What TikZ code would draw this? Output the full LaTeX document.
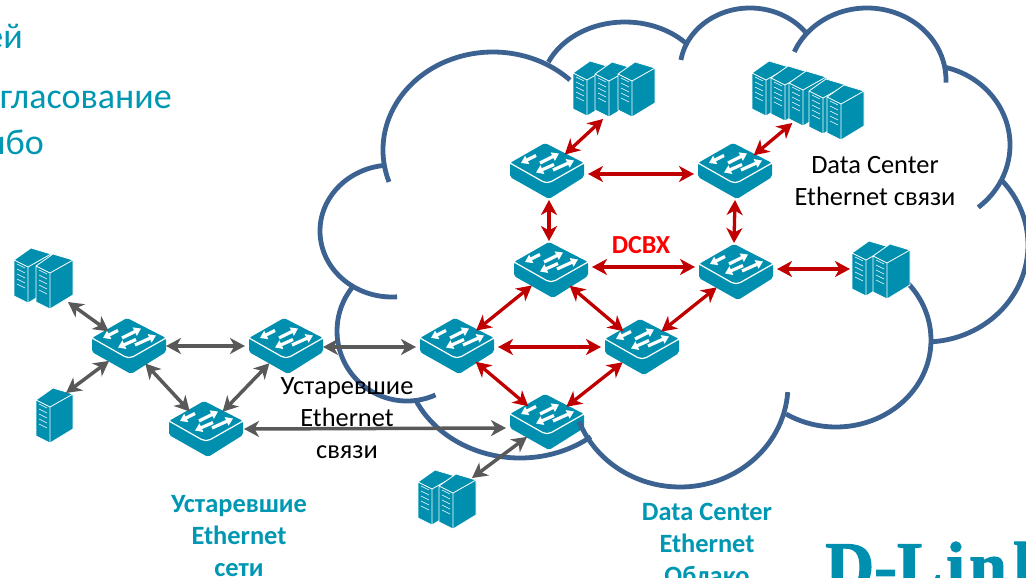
\documentclass[tikz,border=0pt]{standalone}
\usepackage{fontspec}
\setmainfont{Carlito}
\newfontfamily\logofont[FakeBold=1.6]{Liberation Serif Bold}
\usetikzlibrary{arrows.meta,shapes.geometric}
\definecolor{iconteal}{HTML}{008FAE}
\definecolor{headteal}{HTML}{0097B2}
\definecolor{cloudblue}{HTML}{3C6291}
\definecolor{linkred}{HTML}{C00000}
\definecolor{linkgrey}{HTML}{595959}
\newcommand{\cloudarc}[6]{\draw[cloudline] (#1,#2) ++(#5:#3 and #4) arc[start angle=#5, end angle=#6, x radius=#3, y radius=#4];}
\tikzset{
  cloudline/.style={draw=cloudblue, line width=4.8pt},
  redlink/.style={draw=linkred, line width=3.3pt, {Stealth[length=15pt,width=16pt,inset=4.5pt]}-{Stealth[length=15pt,width=16pt,inset=4.5pt]}},
  greylink/.style={draw=linkgrey, line width=3.5pt, {Stealth[length=15pt,width=16pt,inset=4.5pt]}-{Stealth[length=15pt,width=16pt,inset=4.5pt]}},
  swport/.style={shape=diamond, minimum width=82pt, minimum height=58pt, inner sep=0pt, outer sep=0pt},
  rackport/.style={shape=rectangle, inner sep=0pt, outer sep=0pt},
  blacktext/.style={align=center, font=\fontsize{26.4}{32}\selectfont},
  tealtext/.style={align=center, text=headteal, font=\fontsize{26.4}{32}\selectfont\bfseries},
  headtext/.style={anchor=base east, inner sep=0pt, text=headteal, font=\fontsize{36}{44}\selectfont},
  switchicon/.pic={
    \fill[iconteal, rounded corners=2pt] (-37,-8) -- (-2,-28) -- (37,-8) -- (37,6) -- (2,28) -- (-37,6) -- cycle;
    \draw[white, line width=1.2pt, rounded corners=5pt] (-37,-8) -- (0,13) -- (37,-8);
    \draw[white, line width=3.2pt, -{Triangle[length=7pt,width=9pt]}] (-11,-15.5) -- (-26,-8);
    \draw[white, line width=3.2pt, -{Triangle[length=7pt,width=9pt]}] (-7,-8) -- (12,-17.5);
    \draw[white, line width=3.2pt, -{Triangle[length=7pt,width=9pt]}] (7,-6.5) -- (-11,1.5);
    \draw[white, line width=3.2pt, -{Triangle[length=7pt,width=9pt]}] (6,-1) -- (27,-10.5);
  },
  servericon/.pic={
    \filldraw[fill=iconteal, draw=white, line width=0.8pt, line join=round] (0,0) -- (-14,-7) -- (3,-19) -- (23,-13) -- (23,22) -- (0,36) -- (-14,29) -- (-14,-7) -- (0,0) -- (23,-13) (0,0) -- (0,36);
    \foreach \rowy in {0,5,10,15,20}
      \draw[white, line width=0.6pt] (-11,{\rowy-3}) -- (-3,{\rowy+1});
  },
}
\begin{document}
\begin{tikzpicture}[x=1pt,y=-1pt]
\path[use as bounding box, clip] (0,0) rectangle (1026,578);
% cloud
\cloudarc{493}{150}{110}{98}{161}{314.4}
\cloudarc{625}{90}{84}{68}{204.2}{316.4}
\cloudarc{750}{70}{70}{62}{189.3}{323.3}
\cloudarc{867}{80}{79}{72}{203}{362}
\cloudarc{925}{145}{85}{80}{283.6}{411.2}
\cloudarc{925}{245}{103}{97}{317}{446.7}
\cloudarc{836}{340}{95}{87}{-43.5}{121.7}
\cloudarc{520}{358}{115}{100}{52}{155}
\cloudarc{407}{331}{70}{70}{66}{221}
\cloudarc{392}{231}{72}{66}{263}{86}
% switches
\node[swport] (dcA) at (547,171) {}; \pic at (dcA) {switchicon};
\node[swport] (dcB) at (735,171) {}; \pic at (dcB) {switchicon};
\node[swport] (dcC) at (551,270) {}; \pic at (dcC) {switchicon};
\node[swport] (dcD) at (736,272) {}; \pic at (dcD) {switchicon};
\node[swport] (dcE) at (457,346) {}; \pic at (dcE) {switchicon};
\node[swport] (dcF) at (642,347) {}; \pic at (dcF) {switchicon};
\node[swport] (dcG) at (547,422) {}; \pic at (dcG) {switchicon};
\node[swport] (oldA) at (129,346) {}; \pic at (oldA) {switchicon};
\node[swport] (oldB) at (286,346) {}; \pic at (oldB) {switchicon};
\node[swport] (oldC) at (206,429) {}; \pic at (oldC) {switchicon};
\cloudarc{680}{385}{108}{102}{4}{159}
% servers
\node[rackport, minimum width=82pt, minimum height=60pt] (rackA) at (614,89) {};
\foreach \px/\py in {587/80,609/81,632/81} \pic at (\px,\py) {servericon};
\node[rackport, minimum width=114pt, minimum height=46pt] (rackB) at (809,100) {};
\foreach \px/\py in {766/80,785/85,803/90,823/98,841/104} \pic at (\px,\py) {servericon};
\node[rackport, minimum width=62pt, minimum height=58pt] (rackC) at (881,269) {};
\foreach \px/\py in {866/260,887/263} \pic at (\px,\py) {servericon};
\node[rackport, minimum width=48pt, minimum height=48pt] (rackD) at (44,278) {};
\foreach \px/\py in {28/267,50/273} \pic at (\px,\py) {servericon};
\node[rackport, minimum width=22pt, minimum height=44pt] (rackE) at (55,415) {};
\pic at (50,407) {servericon};
\node[rackport, minimum width=48pt, minimum height=44pt] (rackF) at (448,500) {};
\foreach \px/\py in {432/489,453/493} \pic at (\px,\py) {servericon};
% red links
\draw[redlink] (dcA) -- (rackA.-110);
\draw[redlink] (dcB) -- (rackB.-126);
\draw[redlink] ([yshift=-3pt]dcA.east) -- ([yshift=-3pt]dcB.west);
\draw[redlink] ([xshift=2pt]dcA.south) -- ([xshift=-2pt]dcC.north);
\draw[redlink] (dcB.south) -- ([xshift=-2pt]dcD.north);
\draw[redlink] ([yshift=3pt]dcC.east) -- ([yshift=5pt]dcD.west);
\draw[redlink] ([yshift=3pt]dcD.east) -- (rackC.west);
\draw[redlink] (dcC) -- (dcE);
\draw[redlink] (dcC) -- (dcF);
\draw[redlink] (dcD) -- (dcF);
\draw[redlink] ([yshift=-1pt]dcE.east) -- (dcF.west);
\draw[redlink] (dcE) -- (dcG);
\draw[redlink] (dcF) -- (dcG);
% grey links
\draw[greylink] (rackD.south east) -- (oldA);
\draw[greylink] (rackE.north east) -- (oldA);
\draw[greylink] (oldA) -- (oldC);
\draw[greylink] ([xshift=-4pt]oldA.east) -- (oldB.west);
\draw[greylink] (oldB) -- (oldC);
\draw[greylink] ([xshift=-4pt,yshift=-1pt]oldB.east) -- ([yshift=-1pt]dcE.west);
\draw[greylink] ([xshift=-3pt]oldC.east) -- ([yshift=-6pt]dcG.west);
\draw[greylink] (dcG) -- (rackF.north east);
% labels
\node[blacktext] (oldlink) at (347,418) {Устаревшие\\Ethernet\\связи};
\node[blacktext] (dclink) at (875,181) {Data Center\\Ethernet связи};
\node[tealtext] (oldnet) at (239,536) {Устаревшие\\Ethernet\\сети};
\node[tealtext] (dccloud) at (707,544) {Data Center\\Ethernet\\Облако};
\node[text=red, font=\fontsize{26}{30}\selectfont\bfseries] (dcbx) at (641,245) {DCBX};
\node[headtext] (headA) at (23,49) {ей};
\node[headtext] (headB) at (172,109) {гласование};
\node[headtext] (headC) at (44,154) {ибо};
\node[anchor=base west, inner sep=0pt, text=iconteal, font=\logofont\fontsize{68}{68}\selectfont] (logo) at (825,589) {D-L\kern4pt i\kern4pt n\kern6pt k};
\end{tikzpicture}
\end{document}
